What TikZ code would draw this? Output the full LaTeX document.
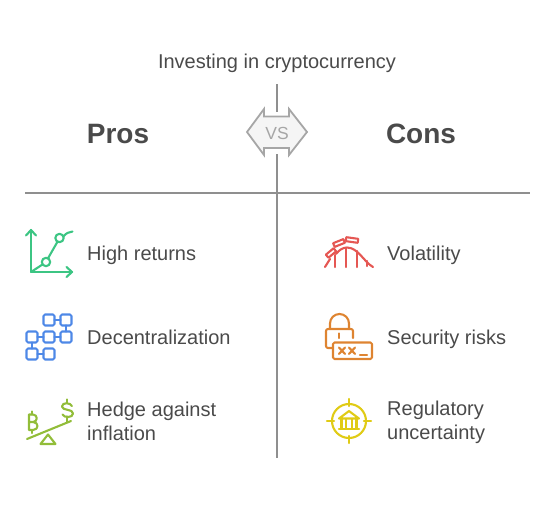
\documentclass[tikz,border=0pt]{standalone}
\usepackage{fontspec}
\setmainfont{Liberation Sans}
\definecolor{ink}{HTML}{4A4A4A}
\definecolor{rule}{HTML}{8F8F8F}
\definecolor{vsc}{HTML}{A6A6A6}
\definecolor{grn}{HTML}{3CC583}
\definecolor{blu}{HTML}{4E88E7}
\definecolor{olv}{HTML}{92BD39}
\definecolor{red}{HTML}{E55753}
\definecolor{org}{HTML}{DE8431}
\definecolor{yel}{HTML}{E0CB15}
\tikzset{
 x=1pt,y=-1pt,
 lbl/.style={font=\fontsize{20}{24}\selectfont,text=ink,anchor=base west,inner sep=0pt},
 lblb/.style={font=\fontsize{20}{24}\selectfont,text=ink,anchor=west,inner sep=0pt,align=left},
 head/.style={font=\fontsize{28}{34}\selectfont\bfseries,text=ink,inner sep=0pt,anchor=base},
 rulel/.style={draw=rule,line width=2pt},
 ic/.style={line width=2.1pt,line cap=round,line join=round},
}
\begin{document}
\begin{tikzpicture}
\useasboundingbox (0,0) rectangle (555,506);
\node[font=\fontsize{20}{24}\selectfont,text=ink,inner sep=0pt,anchor=base] (title) at (277,68) {Investing in cryptocurrency};
\coordinate (vt) at (277,84);
\coordinate (vb) at (277,458);
\coordinate (ha) at (25,192.5);
\coordinate (hb) at (530,192.5);
\coordinate (v1) at (277,112);
\coordinate (v2) at (277,154);
\draw[rulel] (vt)--(v1);
\draw[rulel] (v2)--(vb);
\draw[rulel] (ha)--(hb);
\draw[draw=vsc,fill=black!4,line width=1.8pt,line join=miter]
 (247,132)--(264,109)--(264,116.5)--(289,116.5)--(289,109)--(307,132)--(289,155)--(289,148)--(264,148)--(264,155)--cycle;
\node[font=\fontsize{17.5}{22}\selectfont,text=vsc,inner sep=0pt] (vs) at (277,133) {VS};
\node[head] (pros) at (118,143.5) {Pros};
\node[head] (cons) at (421,143.5) {Cons};
\node[lbl] (t1) at (87,260) {High returns};
\node[lbl] (t2) at (87,344) {Decentralization};
\node[lblb] (t3) at (87,421.3) {Hedge against\\inflation};
\node[lbl] (t4) at (387,260) {Volatility};
\node[lbl] (t5) at (387,344) {Security risks};
\node[lblb] (t6) at (387,422.8) {Regulatory\\uncertainty};
% high returns
\begin{scope}[ic,draw=grn]
\draw (31,230)--(31,272)--(72,272);
\draw (26,235.5)--(31,230)--(36,235.5);
\draw (66.5,267)--(72,272)--(66.5,277);
\draw (46,262) circle[radius=4.2];
\draw (59.5,238) circle[radius=4.2];
\draw (31,272)--(42.5,264.5);
\draw (48,258.3)--(57.5,241.7);
\draw (63.5,236.5) .. controls (66,233) and (69,232) .. (72.5,231.5);
\end{scope}
% decentralization
\begin{scope}[ic,draw=blu]
\foreach \x/\y in {49/320,66/320,32/337,49/337,66/337,32/354,49/354}
 \draw[rounded corners=1.5] (\x-5.5,\y-5.5) rectangle (\x+5.5,\y+5.5);
\draw (54.5,320)--(60.5,320);
\draw (66,325.5)--(66,331.5);
\draw (37.5,337)--(43.5,337);
\draw (54.5,337)--(60.5,337);
\draw (32,342.5)--(32,348.5);
\draw (37.5,354)--(43.5,354);
\end{scope}
% hedge
\begin{scope}[ic,draw=olv]
\draw (27,439)--(71,421);
\draw (48,434.5)--(40.5,444)--(55.5,444)--cycle;
\draw (29,414.5)--(29,430)--(33,430) .. controls (39,430) and (39,422) .. (33,422)--(29,422) (33,422) .. controls (38,422) and (38,414.5) .. (33,414.5)--(29,414.5);
\draw (32,411.5)--(32,414.5) (32,430)--(32,433);
\draw (72,406) .. controls (70.5,402.5) and (62,402) .. (62,406.5) .. controls (62,411) and (73,408.5) .. (73,413.5) .. controls (73,418) and (64,418) .. (62.5,414.5);
\draw (67,399.5)--(67,403) (67,416.5)--(67,421.5);
\end{scope}
% volatility
\begin{scope}[ic,draw=red]
\draw (336,254) .. controls (339,250) and (343,247.5) .. (347,247.5) .. controls (358,247.5) and (364,262) .. (373,267);
\draw (325,267)--(330,259);
\draw (335,255)--(335,267) (346,248)--(346,267) (357,251)--(357,267) (367,261)--(367,266);
\draw[rotate around={-8:(352,240)}] (346,238) rectangle (358,242);
\draw[rotate around={22:(339,243)}] (333.5,241) rectangle (344.5,245);
\draw[rotate around={40:(331,253)}] (326,251) rectangle (336,255);
\end{scope}
% security
\begin{scope}[ic,draw=org]
\draw[rounded corners=2] (332,348)--(326,348)--(326,329)--(353,329)--(353,338);
\draw (330,329)--(330,323.5) arc[start angle=180,end angle=360,radius=9.5]--(349,329);
\draw (339,333.5)--(339,338);
\draw[rounded corners=1.5] (333,342.5) rectangle (372,359);
\draw (339,347.5)--(345,354) (345,347.5)--(339,354);
\draw (349,347.5)--(355,354) (355,347.5)--(349,354);
\draw (360,355)--(367,355);
\end{scope}
% regulatory
\begin{scope}[ic,draw=yel]
\draw (349,421) circle[radius=17];
\draw (327,421)--(334,421) (364,421)--(371,421);
\draw (349,399)--(349,406) (349,436)--(349,443);
\draw (339,418.5)--(349,411)--(359,418.5)--cycle;
\draw (341.5,419)--(341.5,428) (346,419)--(346,428) (352,419)--(352,428) (356.5,419)--(356.5,428);
\draw (339,429)--(359,429);
\end{scope}
\end{tikzpicture}
\end{document}
